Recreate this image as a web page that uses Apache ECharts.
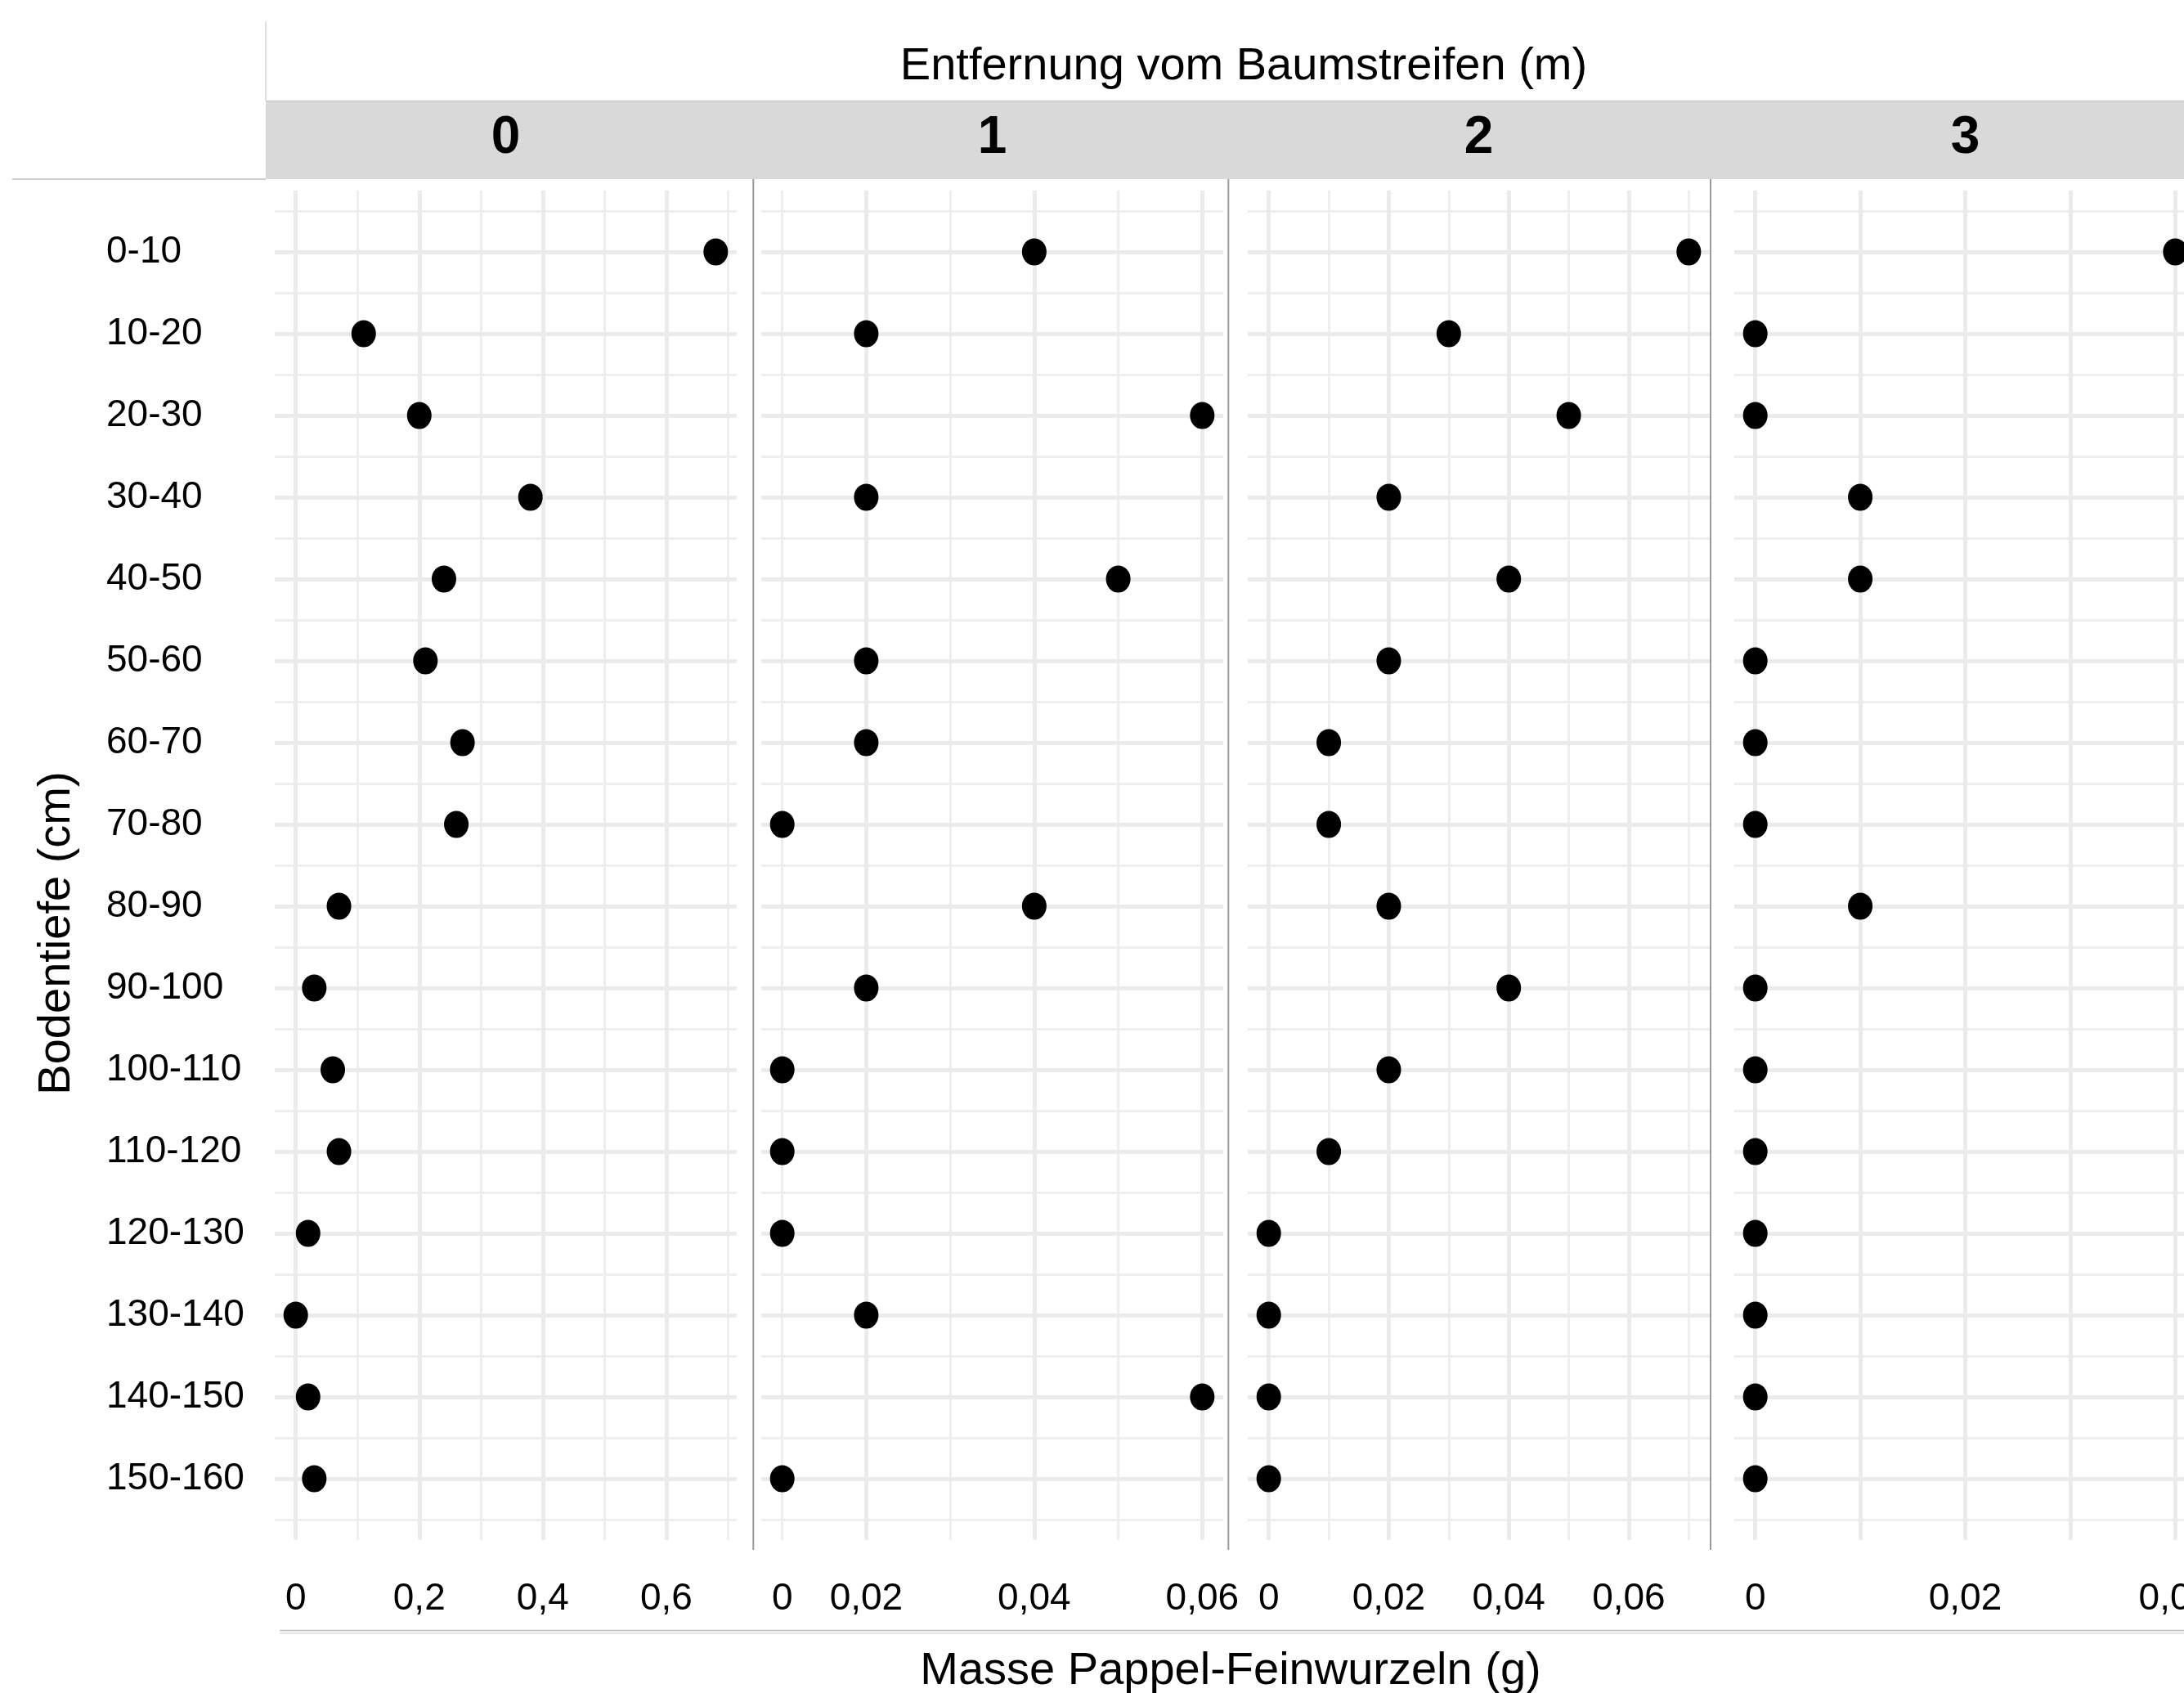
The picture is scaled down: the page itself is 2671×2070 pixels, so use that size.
<!DOCTYPE html>
<html>
<head>
<meta charset="utf-8">
<script src="https://cdn.jsdelivr.net/npm/echarts@6/dist/echarts.min.js"></script>
<style>
html,body{margin:0;padding:0;background:#ffffff;}
#chart{width:2671px;height:2070px;}
</style>
</head>
<body>
<div id="chart"></div>
<script>
// ---------- data ----------
const depthLabels = ['0-10','10-20','20-30','30-40','40-50','50-60','60-70','70-80','80-90','90-100','100-110','110-120','120-130','130-140','140-150','150-160'];
const distanceLabels = ['0','1','2','3'];

const mass0 = [0.68,0.11,0.20,0.38,0.24,0.21,0.27,0.26,0.07,0.03,0.06,0.07,0.02,0.00,0.02,0.03];
const mass1 = [0.04,0.02,0.06,0.02,0.05,0.02,0.02,0.01,0.04,0.02,0.01,0.01,0.01,0.02,0.06,0.01];
const mass2 = [0.07,0.03,0.05,0.02,0.04,0.02,0.01,0.01,0.02,0.04,0.02,0.01,0.00,0.00,0.00,0.00];
const mass3 = [0.04,0.00,0.00,0.01,0.01,0.00,0.00,0.00,0.01,0.00,0.00,0.00,0.00,0.00,0.00,0.00];

// gridline break values (major / minor) per panel
const xMajor0 = [0,0.2,0.4,0.6],            xMinor0 = [0.1,0.3,0.5,0.7];
const xMajor1 = [0.02,0.04,0.06],           xMinor1 = [0.01,0.03,0.05];
const xMajor2 = [0,0.02,0.04,0.06],         xMinor2 = [0.01,0.03,0.05,0.07];
const xMajor3 = [0,0.01,0.02,0.03,0.04],    xMinor3 = [0.005,0.015,0.025,0.035];

// tick labels as printed under each panel
const xTickValues0 = [0,0.2,0.4,0.6];        const xTickText0 = ['0','0,2','0,4','0,6'];
const xTickValues1 = [0.01,0.02,0.04,0.06];  const xTickText1 = ['0','0,02','0,04','0,06'];
const xTickValues2 = [0,0.02,0.04,0.06];     const xTickText2 = ['0','0,02','0,04','0,06'];
const xTickValues3 = [0,0.02,0.04];          const xTickText3 = ['0','0,02','0,04'];

const titleTop = 'Entfernung vom Baumstreifen (m)';
const titleX = 'Masse Pappel-Feinwurzeln (g)';
const titleY = 'Bodentiefe (cm)';

// ---------- layout ----------
const FONT = '"Liberation Sans", Arial, Helvetica, sans-serif';
const panelLeft0 = 336, panelStep = 595, panelW = 565;
const panelTop = 233, panelH = 1650;
const labelStep = [0.002, 0.0005, 0.0005, 0.0005];

const panels = [
  {data: mass0, major: xMajor0, minor: xMinor0, tv: xTickValues0, tt: xTickText0},
  {data: mass1, major: xMajor1, minor: xMinor1, tv: xTickValues1, tt: xTickText1},
  {data: mass2, major: xMajor2, minor: xMinor2, tv: xTickValues2, tt: xTickText2},
  {data: mass3, major: xMajor3, minor: xMinor3, tv: xTickValues3, tt: xTickText3}
];

function r6(v){ return Math.round(v*1e6)/1e6; }
function fmtFactory(vals, texts){
  return function(v){
    for (let i=0;i<vals.length;i++){ if (Math.abs(v - vals[i]) < 1e-7) return texts[i]; }
    return '';
  };
}

const grids = [], xAxes = [], yAxes = [], series = [];
const yMajor = depthLabels.map((d,i)=>i);
const yMinor = [];
for (let i=0;i<=depthLabels.length;i++) yMinor.push(i-0.5);
const nCat = depthLabels.length;
const yMin = -0.05*(nCat-1), yMax = (nCat-1) + 0.05*(nCat-1);

panels.forEach((p,k)=>{
  const lo = Math.min(...p.data), hi = Math.max(...p.data);
  const pad = 0.05*(hi-lo);
  grids.push({left: panelLeft0 + panelStep*k, top: panelTop, width: panelW, height: panelH,
    containLabel:false, outerBoundsMode:'none'});
  xAxes.push({
    gridIndex:k, type:'value', min:r6(lo-pad), max:r6(hi+pad), interval: labelStep[k],
    axisLine:{show:false}, axisTick:{show:false}, splitLine:{show:false},
    axisLabel:{show:true, margin:49, fontSize:46, color:'#000', fontFamily:FONT,
      showMinLabel:true, showMaxLabel:true, formatter: fmtFactory(p.tv, p.tt)}
  });
  yAxes.push({
    gridIndex:k, type:'value', inverse:true, min:yMin, max:yMax, interval:0.25,
    axisLine:{show:false}, axisTick:{show:false}, splitLine:{show:false},
    axisLabel: k===0 ? {show:true, align:'left', margin:206, fontSize:46, color:'#000', fontFamily:FONT,
      formatter:function(v){ const r=Math.round(v); return (Math.abs(v-r)<1e-7 && r>=0 && r<nCat) ? depthLabels[r] : ''; }}
      : {show:false}
  });
  const lines = [];
  p.minor.forEach(v=>lines.push({xAxis:v, lineStyle:{color:'#eeeeee', width:3, type:'solid'}}));
  yMinor.forEach(v=>lines.push({yAxis:v, lineStyle:{color:'#eeeeee', width:3, type:'solid'}}));
  p.major.forEach(v=>lines.push({xAxis:v, lineStyle:{color:'#ebebeb', width:5, type:'solid'}}));
  yMajor.forEach(v=>lines.push({yAxis:v, lineStyle:{color:'#ebebeb', width:5, type:'solid'}}));
  series.push({
    type:'scatter', xAxisIndex:k, yAxisIndex:k, data:[], z:1, silent:true,
    markLine:{silent:true, z:1, symbol:['none','none'], animation:false,
      label:{show:false}, emphasis:{disabled:true}, data:lines}
  });
  series.push({
    type:'scatter', xAxisIndex:k, yAxisIndex:k, z:10, silent:true,
    symbol:'circle', symbolSize:[30,33],
    itemStyle:{color:'#000000', opacity:1},
    data: p.data.map((v,i)=>[v,i])
  });
});

// ---------- decorations & texts ----------
const graphic = [];
graphic.push({type:'rect', z:0, shape:{x:325, y:123, width:2346, height:96}, style:{fill:'#d9d9d9'}});
graphic.push({type:'line', z:1, shape:{x1:325, y1:123.5, x2:2671, y2:123.5}, style:{stroke:'#c9c9c9', lineWidth:1.5}});
graphic.push({type:'line', z:1, shape:{x1:325, y1:26, x2:325, y2:123}, style:{stroke:'#d4d4d4', lineWidth:1.5}});
graphic.push({type:'line', z:1, shape:{x1:15, y1:219, x2:325, y2:219}, style:{stroke:'#bdbdbd', lineWidth:1.5}});
[921.3, 1502.3, 2092].forEach(x=>{
  graphic.push({type:'line', z:1, shape:{x1:x, y1:219, x2:x, y2:1895}, style:{stroke:'#9a9a9a', lineWidth:2}});
});
graphic.push({type:'line', z:1, shape:{x1:342, y1:1993.5, x2:2671, y2:1993.5}, style:{stroke:'#bdbdbd', lineWidth:1.5}});
graphic.push({type:'line', z:1, shape:{x1:342, y1:1997, x2:2671, y2:1997}, style:{stroke:'#dddddd', lineWidth:1.5}});

distanceLabels.forEach((d,k)=>{
  graphic.push({type:'text', z:5, x: panelLeft0 + panelStep*k + panelW/2, y:169,
    style:{text:d, fontSize:64, fontWeight:'bold', fontFamily:FONT, fill:'#000', align:'center', verticalAlign:'middle'}});
});
graphic.push({type:'text', z:5, x:1521, y:82,
  style:{text:titleTop, fontSize:56, fontFamily:FONT, fill:'#000', align:'center', verticalAlign:'middle'}});
graphic.push({type:'text', z:5, x:1505, y:2044,
  style:{text:titleX, fontSize:56, fontFamily:FONT, fill:'#000', align:'center', verticalAlign:'middle'}});
graphic.push({type:'text', z:5, x:70, y:1141, rotation:Math.PI/2,
  style:{text:titleY, fontSize:56, fontFamily:FONT, fill:'#000', align:'center', verticalAlign:'middle'}});

const chart = echarts.init(document.getElementById('chart'), null, {renderer:'canvas'});
chart.setOption({
  animation:false,
  backgroundColor:'#ffffff',
  grid: grids,
  xAxis: xAxes,
  yAxis: yAxes,
  series: series,
  graphic: graphic
});
</script>
</body>
</html>
